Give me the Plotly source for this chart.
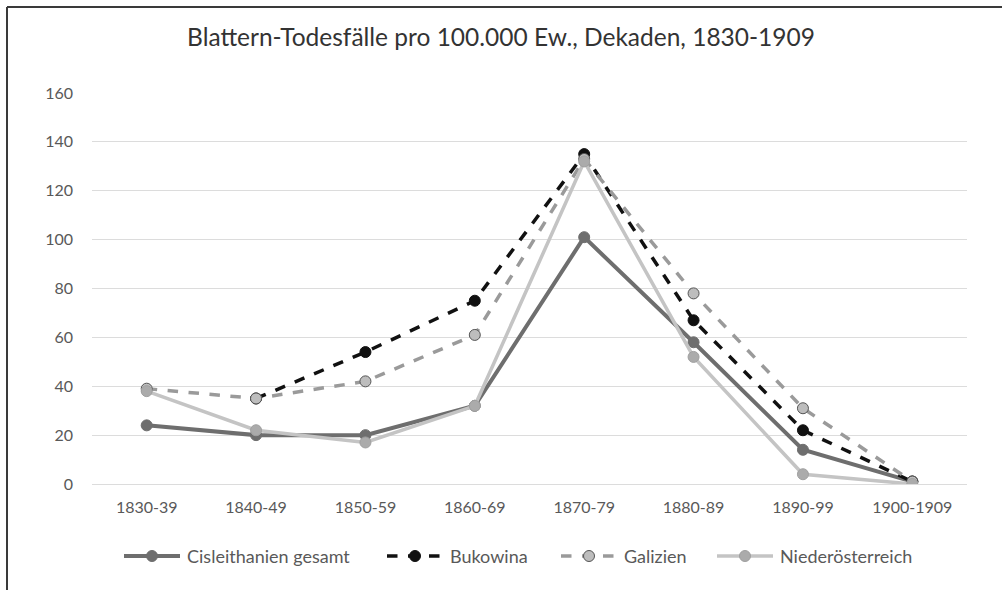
import plotly.graph_objects as go

decades = ["1830-39", "1840-49", "1850-59", "1860-69", "1870-79", "1880-89", "1890-99", "1900-1909"]
cisleithanien = [24, 20, 20, 32, 101, 58, 14, 1]
bukowina = [None, 35, 54, 75, 135, 67, 22, 1]
galizien = [39, 35, 42, 61, 133, 78, 31, 1]
niederoesterreich = [38, 22, 17, 32, 132, 52, 4, 0]
y_ticks = [0, 20, 40, 60, 80, 100, 120, 140, 160]

FONT = "Lato"

series = [
    dict(name="Cisleithanien gesamt", y=cisleithanien,
         line=dict(color="#6e6e6e", width=4, dash="solid"),
         marker=dict(size=11, color="#6e6e6e", line=dict(color="#6e6e6e", width=1))),
    dict(name="Bukowina", y=bukowina,
         line=dict(color="#111111", width=3.5, dash="dash"),
         marker=dict(size=11, color="#111111", line=dict(color="#111111", width=1))),
    dict(name="Galizien", y=galizien,
         line=dict(color="#9a9a9a", width=3.5, dash="dash"),
         marker=dict(size=11, color="#bdbdbd", line=dict(color="#555555", width=1))),
    dict(name="Niederösterreich", y=niederoesterreich,
         line=dict(color="#c4c4c4", width=3.5, dash="solid"),
         marker=dict(size=11, color="#ababab", line=dict(color="#a0a0a0", width=1))),
]

fig = go.Figure()
for s in series:
    fig.add_trace(go.Scatter(x=decades, y=s["y"], name=s["name"], mode="lines+markers",
                             line=s["line"], marker=s["marker"]))

W, H = 1002, 590
L, R, T, B = 92, 35, 93, 106
pw, ph = W - L - R, H - T - B
def px_x(x):
    return (x - L) / pw
def px_y(y):
    return (H - B - y) / ph

# frame along the top and left edge
fig.add_shape(type="line", xref="paper", yref="paper",
              x0=px_x(7), x1=px_x(1002), y0=px_y(7), y1=px_y(7),
              line=dict(color="#3a3a3a", width=2))
fig.add_shape(type="line", xref="paper", yref="paper",
              x0=px_x(7), x1=px_x(7), y0=px_y(7), y1=px_y(590),
              line=dict(color="#3a3a3a", width=2))

# legend row below the axis: long line sample, marker in the middle, label to the right
legend_y = 556
legend_starts = [124, 387, 561, 717]
sample_len = 56
for s, x0 in zip(series, legend_starts):
    ly = px_y(legend_y)
    fig.add_shape(type="line", xref="paper", yref="paper",
                  x0=px_x(x0), x1=px_x(x0 + sample_len), y0=ly, y1=ly,
                  line=dict(color=s["line"]["color"], width=s["line"]["width"],
                            dash=s["line"]["dash"]))
    r = s["marker"]["size"] / 2
    fig.add_shape(type="circle", xref="paper", yref="paper",
                  xsizemode="pixel", ysizemode="pixel",
                  xanchor=px_x(x0 + sample_len / 2), yanchor=ly,
                  x0=-r, x1=r, y0=-r, y1=r,
                  fillcolor=s["marker"]["color"],
                  line=dict(color=s["marker"]["line"]["color"], width=1))
    fig.add_annotation(xref="paper", yref="paper", x=px_x(x0 + sample_len + 5), y=ly,
                       xanchor="left", yanchor="middle", showarrow=False,
                       text=s["name"], font=dict(family=FONT, size=18, color="#595959"))

fig.update_layout(
    width=W, height=H,
    margin=dict(l=L, r=R, t=T, b=B),
    paper_bgcolor="white", plot_bgcolor="white",
    font=dict(family=FONT, color="#595959", size=16),
    title=dict(text="Blattern-Todesfälle pro 100.000 Ew., Dekaden, 1830-1909",
               x=0.5, xanchor="center", y=1 - 37 / H, yanchor="middle",
               font=dict(family=FONT, size=24.5, color="#333333")),
    showlegend=False,
    xaxis=dict(showgrid=False, showline=False, ticks="", tickfont=dict(size=16),
               range=[-0.5, 7.5], ticklabelstandoff=12),
    yaxis=dict(range=[0, 160], tickvals=y_ticks, showgrid=True, gridcolor="#dcdcdc",
               gridwidth=1, zeroline=True, zerolinecolor="#dcdcdc", zerolinewidth=1,
               showline=False, ticks="", tickfont=dict(size=16), ticklabelstandoff=18),
)

fig.write_html("out.html")
